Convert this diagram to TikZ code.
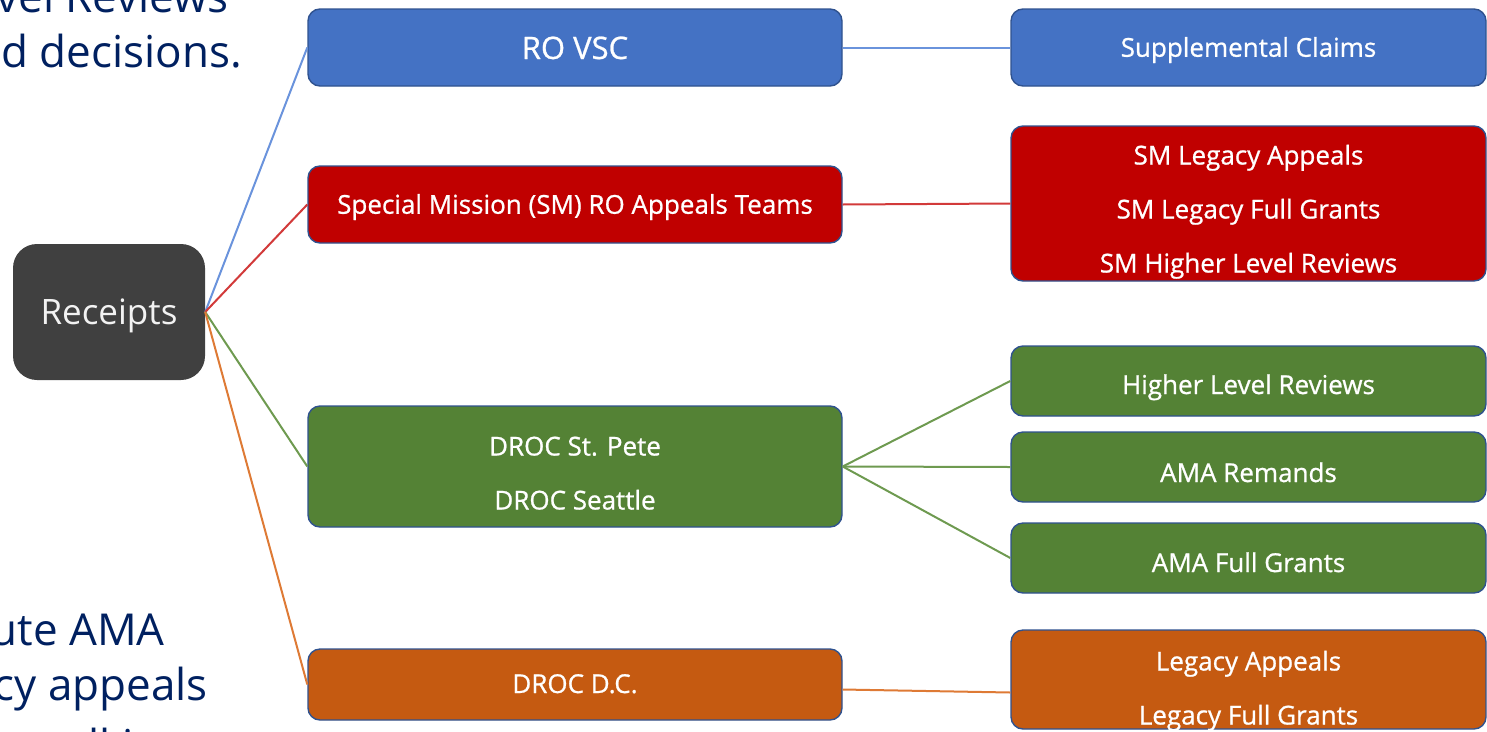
\documentclass[tikz,border=0pt]{standalone}
\usepackage{fontspec}
\setmainfont{Open Sans}
\newfontfamily\boxfont{Open Sans}[FakeBold=0.8]

\definecolor{navy}{HTML}{002060}
\definecolor{rim}{HTML}{2F528F}
\definecolor{fblue}{HTML}{4472C4}
\definecolor{fred}{HTML}{C00000}
\definecolor{fgreen}{HTML}{548235}
\definecolor{forange}{HTML}{C55A11}
\definecolor{fgray}{HTML}{404040}
\definecolor{lblue}{HTML}{6A93DC}
\definecolor{lred}{HTML}{D23A3A}
\definecolor{lgreen}{HTML}{6E9A50}
\definecolor{lorange}{HTML}{DE7A35}

\tikzset{
  box/.style={draw=rim, line width=1.4pt, rounded corners=12pt, text=white,
    align=center, inner sep=0pt, text depth=0pt,
    font=\boxfont\fontsize{26}{54}\selectfont},
  midbox/.style={box, minimum width=534pt},
  rightbox/.style={box, minimum width=475pt},
  % text height = twice the drop of the last baseline below the box centre
  drop/.style={text height=#1},
  link/.style={line width=2pt},
  sidetext/.style={text=navy, inner sep=0pt, font=\fontsize{44}{55}\selectfont}
}

\begin{document}
\begin{tikzpicture}[x=1pt, y=-1pt]
\useasboundingbox (0,0) rectangle (1487,731);
\clip (0,0) rectangle (1487,731);

% text running in from the left edge
\node[sidetext, anchor=base east] (t1) at (229,12) {vel Reviews};
\node[sidetext, anchor=base east] (t2) at (242,67) {d decisions.};
\node[sidetext, anchor=base east] (b1) at (165,645) {ute AMA};
\node[sidetext, anchor=base east] (b2) at (208,700) {cy appeals};
\node[sidetext, anchor=base west] (b3) at (64,761) {all in};

% root
\node[fill=fgray, rounded corners=24pt, minimum width=192pt, minimum height=136pt,
      inner sep=0pt, text height=24pt, text depth=0pt,
      text=white!95!black, font=\fontsize{35}{40}\selectfont] (rec) at (109,312) {Receipts};

% middle column
\node[midbox, fill=fblue, minimum height=77pt, drop=23pt, font=\boxfont\fontsize{31}{36}\selectfont] (rovsc) at (575,47.5) {RO VSC};
\node[midbox, fill=fred, minimum height=77pt, drop=18.5pt] (sm) at (575,204.5) {Special Mission (SM) RO Appeals Teams};
\node[midbox, fill=fgreen, minimum height=121pt, drop=86pt] (droc) at (575,466.5) {DROC St. Pete\\DROC Seattle};
\node[midbox, fill=forange, minimum height=71pt, drop=17pt] (dc) at (575,684.5) {DROC D.C.};

% right column
\node[rightbox, fill=fblue, minimum height=77pt, drop=18.5pt] (supp) at (1248.5,47.5) {Supplemental Claims};
\node[rightbox, fill=fred, minimum height=155pt, drop=138pt] (smr) at (1248.5,203.5) {SM Legacy Appeals\\SM Legacy Full Grants\\SM Higher Level Reviews};
\node[rightbox, fill=fgreen, minimum height=70pt, drop=26pt] (hlr) at (1248.5,381) {Higher Level Reviews};
\node[rightbox, fill=fgreen, minimum height=70pt, drop=30pt] (ama) at (1248.5,467) {AMA Remands};
\node[rightbox, fill=fgreen, minimum height=70pt, drop=28pt] (amafg) at (1248.5,558) {AMA Full Grants};
\node[rightbox, fill=forange, minimum height=99pt, drop=90pt] (leg) at (1248.5,679.5) {Legacy Appeals\\Legacy Full Grants};

% connectors
\draw[link, lblue] (rec.east) -- (rovsc.west);
\draw[link, lred] (rec.east) -- (sm.west);
\draw[link, lgreen] (rec.east) -- (droc.west);
\draw[link, lorange] (rec.east) -- (dc.west);

\draw[link, lblue] (rovsc.east) -- (supp.west);
\draw[link, lred] (sm.east) -- (smr.west);
\draw[link, lgreen] (droc.east) -- (hlr.west);
\draw[link, lgreen] (droc.east) -- (ama.west);
\draw[link, lgreen] (droc.east) -- (amafg.west);
\draw[link, lorange] ([yshift=-5pt]dc.east) -- ([yshift=-13pt]leg.west);
\end{tikzpicture}
\end{document}
